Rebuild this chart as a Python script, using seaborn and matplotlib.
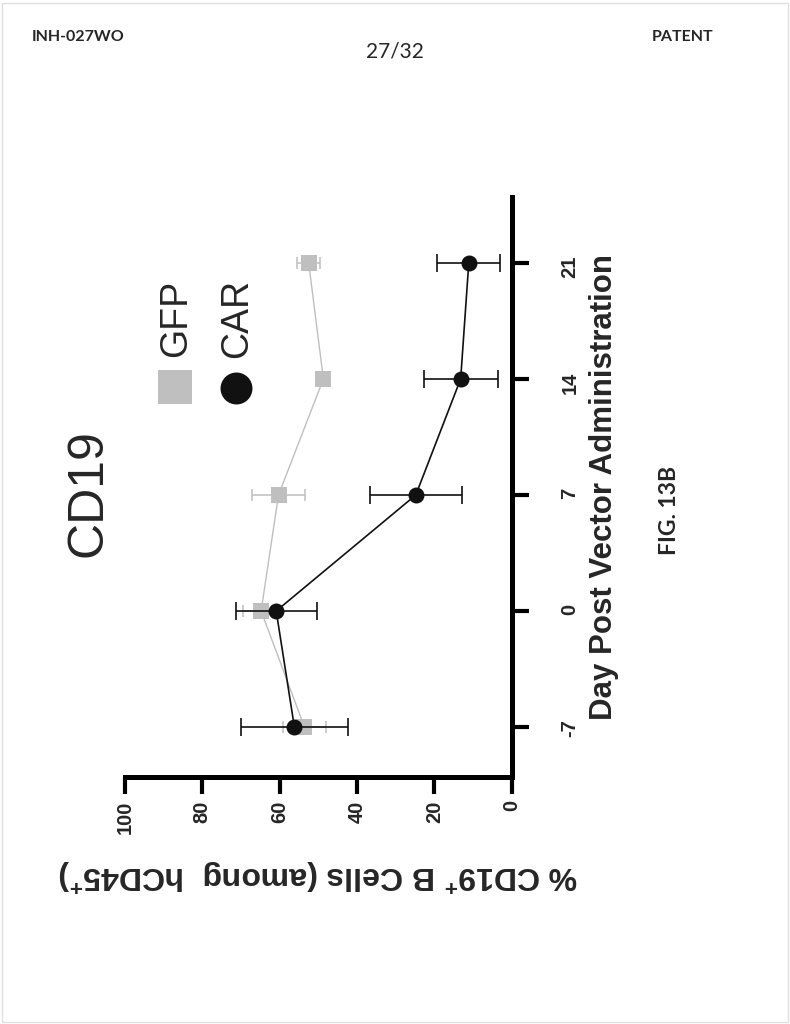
import matplotlib
matplotlib.use("Agg")
import matplotlib.pyplot as plt
from matplotlib.lines import Line2D
from matplotlib.patches import Rectangle
import seaborn as sns
import pandas as pd

# ---- data ----
days = [-7, 0, 7, 14, 21]
gfp_mean = [53.6, 64.8, 60.3, 48.7, 52.5]
gfp_err = [5.5, 4.8, 6.9, 1.0, 2.9]
car_mean = [56.2, 60.9, 24.8, 13.2, 11.1]
car_err = [13.8, 10.5, 11.9, 9.6, 8.2]
pct_ticks = [0, 20, 40, 60, 80, 100]
groups = ["GFP", "CAR"]

sns.set_style("white")
plt.rcParams["font.family"] = ["Liberation Sans", "DejaVu Sans"]
plt.rcParams["mathtext.fontset"] = "custom"
plt.rcParams["mathtext.rm"] = "Liberation Sans"
plt.rcParams["mathtext.bf"] = "Liberation Sans:bold"
plt.rcParams["axes.unicode_minus"] = False

df_gfp = pd.DataFrame({"day": days, "pct": gfp_mean, "group": "GFP"})
df_car = pd.DataFrame({"day": days, "pct": car_mean, "group": "CAR"})

fig = plt.figure(figsize=(7.9, 10.24), dpi=100)
ax = fig.add_axes([125 / 790, 1 - 776.7 / 1024, (511.7 - 125) / 790, (776.7 - 196.7) / 1024])

GFP_C = "#bfbfbf"
CAR_C = "#111111"

# GFP series
ax.errorbar(gfp_mean, days, xerr=gfp_err, fmt="none", ecolor=GFP_C,
            elinewidth=1.1, capsize=4.5, capthick=1.1, zorder=2)
sns.lineplot(data=df_gfp, x="pct", y="day", orient="y", estimator=None,
             color=GFP_C, marker="s", markersize=11, markeredgewidth=0,
             linewidth=1.0, legend=False, ax=ax, zorder=3)
# CAR series
ax.errorbar(car_mean, days, xerr=car_err, fmt="none", ecolor=CAR_C,
            elinewidth=1.2, capsize=6.5, capthick=1.2, zorder=4)
sns.lineplot(data=df_car, x="pct", y="day", orient="y", estimator=None,
             color=CAR_C, marker="o", markersize=11.5, markeredgewidth=0,
             linewidth=1.2, legend=False, ax=ax, zorder=5)

ax.set_xlim(100, 0)
ax.set_ylim(-10, 25)
ax.set_xticks(pct_ticks)
ax.set_yticks(days)

for s in ["left", "top"]:
    ax.spines[s].set_visible(False)
for s in ["bottom", "right"]:
    ax.spines[s].set_linewidth(3.6)
    ax.spines[s].set_color("black")

ax.tick_params(axis="x", bottom=True, length=12, width=3, direction="out",
               labelsize=14.5, labelrotation=90, pad=5, color="black")
ax.tick_params(axis="y", left=False, right=True, labelleft=False, labelright=True,
               length=12, width=3, direction="out", labelsize=14.5,
               labelrotation=90, pad=23, color="black")
for lab in ax.get_xticklabels() + ax.get_yticklabels():
    lab.set_fontweight("bold")

ax.set_xlabel(r"% CD19$^{\mathbf{+}}$ B Cells (among  hCD45$^{\mathbf{+}}$)",
              rotation=180, fontsize=23, fontweight="bold", labelpad=17)
ax.yaxis.set_label_position("right")
ax.set_ylabel("Day Post Vector Administration", rotation=90, fontsize=22.5,
              fontweight="bold", labelpad=7)

# title (rotated)
fig.text(89 / 790, 1 - 493 / 1024, "CD19", rotation=90, ha="center", va="center",
         fontsize=36)

# legend (rotated)
fig.add_artist(Line2D([174.5 / 790], [1 - 386.5 / 1024], marker="s", markersize=25,
                      color=GFP_C, markeredgewidth=0, linestyle="none",
                      transform=fig.transFigure))
fig.add_artist(Line2D([236 / 790], [1 - 387.5 / 1024], marker="o", markersize=23,
                      color=CAR_C, markeredgewidth=0, linestyle="none",
                      transform=fig.transFigure))
fig.text(176 / 790, 1 - 318 / 1024, groups[0], rotation=90, ha="center", va="center",
         fontsize=27)
fig.text(237 / 790, 1 - 318 / 1024, groups[1], rotation=90, ha="center", va="center",
         fontsize=27)

# page header / footer
fig.text(32 / 790, 1 - 37 / 1024, "INH-027WO", ha="left", va="center",
         fontsize=11.5, fontweight="bold", family=["Lato", "DejaVu Sans"])
fig.text(395 / 790, 1 - 52 / 1024, "27/32", ha="center", va="center",
         fontsize=15, family=["Lato", "DejaVu Sans"])
fig.text(713 / 790, 1 - 37 / 1024, "PATENT", ha="right", va="center",
         fontsize=11.5, fontweight="bold", family=["Lato", "DejaVu Sans"])
fig.text(669 / 790, 1 - 510 / 1024, "FIG. 13B", rotation=90, ha="center",
         va="center", fontsize=16.5, fontweight="bold", family=["Lato", "DejaVu Sans"])

fig.add_artist(Rectangle((0.002, 0.002), 0.995, 0.995, transform=fig.transFigure,
                         fill=False, edgecolor="#e0e0e0", linewidth=1))

fig.savefig("out.png", dpi=100)
